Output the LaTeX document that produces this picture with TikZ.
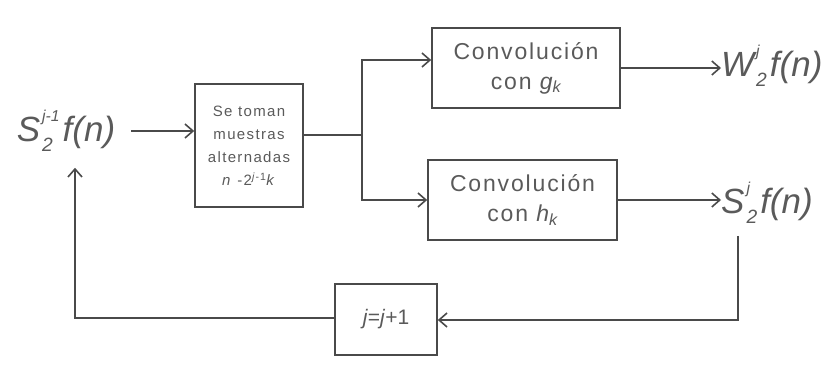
\documentclass[tikz,border=0pt]{standalone}
\usepackage{fontspec}
\setmainfont{Liberation Sans}
\usetikzlibrary{arrows.meta}
\definecolor{lc}{HTML}{4A4A4A}
\definecolor{tc}{HTML}{5A5A5A}
\newcommand\SubSup[2]{\kern2pt%
  \setbox0\hbox{\raisebox{-0.3em}{\scalebox{0.55}{#1}}}%
  \setbox2\hbox{\raisebox{0.55em}{\scalebox{0.45}{#2}}}%
  \dimen0=\wd0 \ifdim\wd2>\dimen0 \dimen0=\wd2 \fi
  \rlap{\copy0}\rlap{\copy2}\kern\dimen0\kern3pt}
\begin{document}
\begin{tikzpicture}[x=1pt,y=-1pt,
  blk/.style={draw=lc, line width=1.6pt, inner sep=0pt, text=tc, align=center},
  lbl/.style={inner sep=0pt, text=tc, font=\fontsize{35}{40}\selectfont\itshape},
  wire/.style={draw=lc, line width=1.6pt},
  arr/.style={wire, -{Straight Barb[length=8pt,width=14pt,line width=1.6pt]}}]
\useasboundingbox (0,0) rectangle (835,369);
% nodes
\node[lbl] (sin) at (66,131) {S\SubSup{2}{j-1}f(n)};
\node[blk, minimum width=108pt, minimum height=123pt,
  font=\fontsize{15}{23}\selectfont\addfontfeature{LetterSpace=9}] (samp) at (249,145.5)
  {Se toman\\muestras\\alternadas\\\textit{n} -2\textsuperscript{\textit{j}-1}\textit{k}};
\node[blk, minimum width=188pt, minimum height=80pt,
  font=\fontsize{23}{30}\selectfont\addfontfeature{LetterSpace=8}] (top) at (526,68)
  {Convolución\\con \textit{g\textsubscript{k}}};
\node[blk, minimum width=189pt, minimum height=80pt,
  font=\fontsize{23}{30}\selectfont\addfontfeature{LetterSpace=8}] (bot) at (522.5,200)
  {Convolución\\con \textit{h\textsubscript{k}}};
\node[blk, minimum width=102pt, minimum height=71pt,
  font=\fontsize{21}{24}\selectfont] (jb) at (386,319.5) {\textit{j}=\textit{j}+1};
\node[lbl, anchor=west] (W) at (721,66) {W\SubSup{2}{j}f(n)};
\node[lbl, anchor=west] (S) at (721,203) {S\SubSup{2}{j}f(n)};
% coordinates
\coordinate (br) at (362,135);
\coordinate (fr) at (738,320);
\coordinate (fl) at (75,318);
% connectors
\draw[arr] ([xshift=16pt]sin.east) -- (sin.east -| samp.west);
\draw[wire] (samp.east |- br) -- (br);
\draw[arr] (br) |- ([yshift=8pt]top.west);
\draw[arr] (br) |- (bot.west);
\draw[arr] (top.east) -- (top.east -| W.west);
\draw[arr] (bot.east) -- (bot.east -| S.west);
\draw[arr] ([yshift=-12pt]S.south -| fr) -- (fr) -- (fr -| jb.east);
\draw[arr] (jb.west |- fl) -- (fl) -- ([yshift=-16pt]sin.south -| fl);
\end{tikzpicture}
\end{document}
